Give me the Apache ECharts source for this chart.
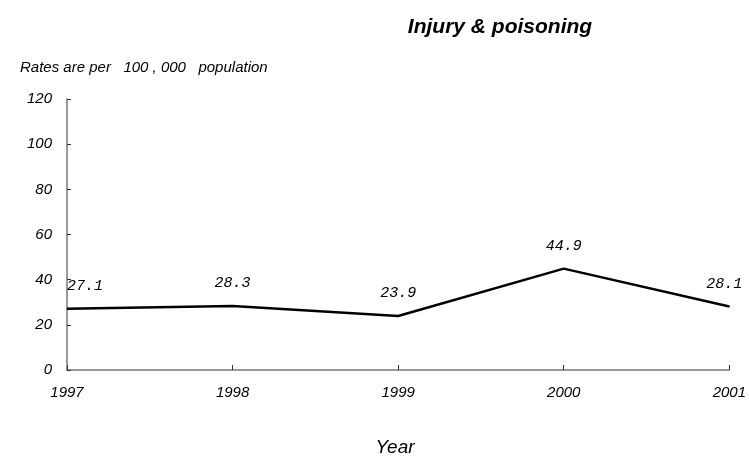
<!DOCTYPE html>
<html><head><meta charset="utf-8">
<script src="https://cdn.jsdelivr.net/npm/echarts@6/dist/echarts.min.js"></script>
<style>html,body{margin:0;padding:0;background:#fff}#c{width:749px;height:456px}</style>
</head><body><div id="c"></div>
<script>
const years = ['1997','1998','1999','2000','2001'];
const rates = [27.1, 28.3, 23.9, 44.9, 28.1];
const yTicks = [0, 20, 40, 60, 80, 100, 120];
const titleText = 'Injury & poisoning';
const noteText = 'Rates are per   100 , 000   population';
const xName = 'Year';

const chart = echarts.init(document.getElementById('c'));
const data = rates.map((v, i) => {
  const d = {value: v};
  if (i === 0) d.label = {align: 'left'};
  if (i === rates.length - 1) d.label = {align: 'right', offset: [13, 0]};
  return d;
});
chart.setOption({
  animation: false,
  title: [
    {text: titleText, left: 500, top: 17, textAlign: 'center', padding: 0,
     textStyle: {fontFamily: 'Liberation Sans', fontStyle: 'italic', fontWeight: 'bold', fontSize: 21, color: '#000'}},
    {text: noteText, left: 20, top: 60, padding: 0,
     textStyle: {fontFamily: 'Liberation Sans', fontStyle: 'italic', fontWeight: 'normal', fontSize: 15, color: '#000'}},
    {text: xName, left: 395, top: 438, textAlign: 'center', padding: 0,
     textStyle: {fontFamily: 'Liberation Sans', fontStyle: 'italic', fontWeight: 'normal', fontSize: 19, color: '#000'}}
  ],
  grid: {left: 67, right: 19, top: 99, bottom: 86, containLabel: false},
  xAxis: {
    type: 'category', data: years, boundaryGap: false,
    axisLine: {lineStyle: {color: '#777', width: 1.5}},
    axisTick: {inside: true, length: 5, lineStyle: {color: '#333'}},
    axisLabel: {margin: 15, fontFamily: 'Liberation Sans', fontStyle: 'italic', fontSize: 15, color: '#000'},
    splitLine: {show: false}
  },
  yAxis: {
    type: 'value', min: 0, max: 120, interval: 20,
    axisLine: {show: true, lineStyle: {color: '#777', width: 1.5}},
    axisTick: {show: true, inside: true, length: 4, lineStyle: {color: '#333'}},
    axisLabel: {margin: 15, fontFamily: 'Liberation Sans', fontStyle: 'italic', fontSize: 15, color: '#000',
      formatter: v => yTicks.includes(v) ? String(v) : ''},
    splitLine: {show: false}
  },
  series: [{
    type: 'line', data: data, showSymbol: true, symbol: 'circle', symbolSize: 1,
    itemStyle: {color: '#000'},
    lineStyle: {color: '#000', width: 2.5},
    label: {show: true, position: 'top', distance: 15,
      fontFamily: 'Liberation Mono', fontStyle: 'italic', fontSize: 15, color: '#000'}
  }]
});
</script></body></html>
